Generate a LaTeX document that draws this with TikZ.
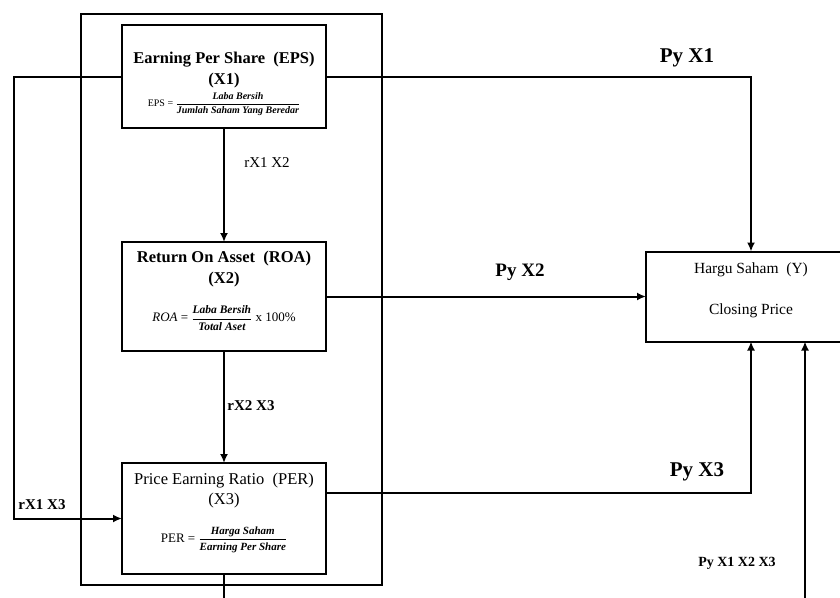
\documentclass[tikz,border=0pt]{standalone}
\usepackage{amsmath}
\usepackage{fontspec}
\setmainfont{Liberation Serif}
\usetikzlibrary{positioning,arrows.meta}

\begin{document}
\begin{tikzpicture}[x=1pt,y=-1pt]
 	\tikzstyle{blok}=[rectangle, draw=black, line width=2pt, minimum width=204pt, inner sep=0pt, outer sep=0pt]
 	\tikzstyle{connect}=[-{Latex[length=9pt,width=8pt]}, line width=2pt]
 	\tikzstyle{judul}=[font=\bfseries\fontsize{16.5}{18}\selectfont, anchor=base]
 	\tikzstyle{biasa}=[font=\fontsize{16.5}{18}\selectfont, anchor=base]
 	\tikzstyle{rumus}=[anchor=center]
 	\tikzstyle{jalur}=[font=\bfseries\fontsize{15}{17}\selectfont]
 	\path[use as bounding box] (0,0) rectangle (840,597);
 	\clip (0,0) rectangle (840,597);
 	\node[rectangle, draw=black, line width=2pt, minimum width=301pt, minimum height=571pt, anchor=north west, inner sep=0pt] (bingkai) at (80,13) {};
 	\node[blok, minimum height=103pt, anchor=north west] (eps) at (122,25)
 		[label={[judul, yshift=-38.5pt]north:Earning Per Share\ \ (EPS)},
 		 label={[judul, yshift=-59.5pt]north:(X1)},
 		 label={[rumus, yshift=-79pt]north:{\fontsize{10}{11}\selectfont EPS = $\dfrac{\text{\bfseries\itshape Laba Bersih}}{\text{\bfseries\itshape Jumlah Saham Yang Beredar}}$}}] {};
 	\node[blok, minimum height=109pt] (roa) [below=114pt of eps,
 		 label={[judul, yshift=-20.5pt]north:Return On Asset\ \ (ROA)},
 		 label={[judul, yshift=-41.5pt]north:(X2)},
 		 label={[rumus, yshift=-76pt]north:{\fontsize{13}{14}\selectfont \textit{ROA} = $\dfrac{\text{\fontsize{11.5}{12}\selectfont\bfseries\itshape Laba Bersih}}{\text{\fontsize{11.5}{12}\selectfont\bfseries\itshape Total Aset}}$ x 100\%}}] {};
 	\node[blok, minimum height=111pt] (per) [below=112pt of roa,
 		 label={[biasa, yshift=-21.5pt]north:Price Earning Ratio\ \ (PER)},
 		 label={[biasa, yshift=-41.5pt]north:(X3)},
 		 label={[rumus, yshift=-77pt]north:{\fontsize{13}{14}\selectfont PER = $\dfrac{\text{\fontsize{11}{12}\selectfont\bfseries\itshape Harga Saham}}{\text{\fontsize{11}{12}\selectfont\bfseries\itshape Earning Per Share}}$}}] {};
 	\node[blok, minimum width=210pt, minimum height=90pt] (y) [right=320pt of roa,
 		 label={[biasa, font=\fontsize{15.5}{17}\selectfont, yshift=-21.5pt]north:Hargu Saham\ \ (Y)},
 		 label={[biasa, font=\fontsize{15.5}{17}\selectfont, yshift=-62.5pt]north:Closing Price}] {};
 	\coordinate (kiri) at (14,0);
 	\coordinate (bawah) at (805,615);
 	\path (eps) edge [connect] (roa)
 	(roa) edge [connect] (per)
 	(roa) edge [connect] (y);
 	\draw[connect] (eps.west) -- (eps.west -| kiri) |- (per.west);
 	\draw[connect] (eps.east) -| (y.north);
 	\draw[connect] ([yshift=26pt]per.east) -| (y.south);
 	\draw[connect] (per.south) |- (bawah) -- (y.south -| bawah);
 	\node[font=\fontsize{15}{17}\selectfont] (r12) at (267,163) {rX1 X2};
 	\node[jalur] (r23) at (251,406) {rX2 X3};
 	\node[jalur] (r13) at (42,505) {rX1 X3};
 	\node[jalur, font=\bfseries\fontsize{21}{23}\selectfont] (p1) at (687,58) {Py X1};
 	\node[jalur, font=\bfseries\fontsize{19}{21}\selectfont] (p2) at (520,272) {Py X2};
 	\node[jalur, font=\bfseries\fontsize{21}{23}\selectfont] (p3) at (697,472) {Py X3};
 	\node[jalur, font=\bfseries\fontsize{14}{16}\selectfont] (p123) at (737,563) {Py X1 X2 X3};
\end{tikzpicture}
\end{document}
